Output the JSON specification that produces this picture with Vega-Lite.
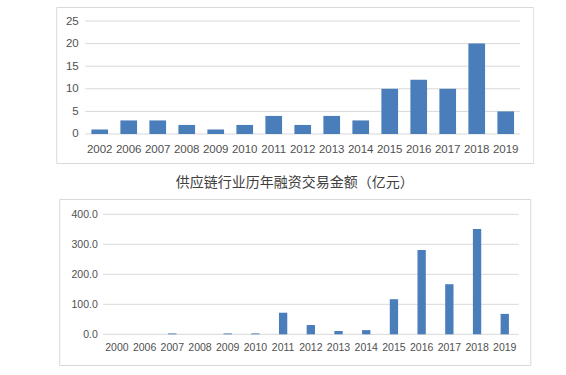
{
  "$schema": "https://vega.github.io/schema/vega-lite/v6.json",
  "padding": {"left": 55, "top": 6, "right": 0, "bottom": 0},
  "background": "white",
  "center": true,
  "spacing": 11,
  "config": {
    "view": {"stroke": "#d9d9d9", "strokeWidth": 1},
    "axis": {"labelFont": "Liberation Sans", "labelColor": "#505050", "domain": false, "ticks": false, "grid": false}
  },
  "vconcat": [
    {
      "width": 477,
      "height": 156,
      "encoding": {
        "y": {
          "field": "value",
          "type": "quantitative",
          "scale": {"domain": [-6.42, 28.1], "nice": false, "zero": false},
          "axis": {"title": null, "values": [0, 5, 10, 15, 20, 25], "offset": -24, "labelPadding": 2, "labelFontSize": 11.5}
        }
      },
      "layer": [
        {
          "data": {"values": [{"value": 0}, {"value": 5}, {"value": 10}, {"value": 15}, {"value": 20}, {"value": 25}]},
          "mark": {"type": "rule", "color": "#d9d9d9", "strokeWidth": 1},
          "encoding": {
            "x": {"datum": "2002", "type": "ordinal", "bandPosition": 0, "axis": {"title": null, "labelAngle": 0, "offset": -29, "labelPadding": 9, "labelFontSize": 11.5}},
            "x2": {"datum": "2019", "bandPosition": 1}
          }
        },
        {
          "data": {"values": [
            {"year": "2002", "value": 1}, {"year": "2006", "value": 3}, {"year": "2007", "value": 3},
            {"year": "2008", "value": 2}, {"year": "2009", "value": 1}, {"year": "2010", "value": 2},
            {"year": "2011", "value": 4}, {"year": "2012", "value": 2}, {"year": "2013", "value": 4},
            {"year": "2014", "value": 3}, {"year": "2015", "value": 10}, {"year": "2016", "value": 12},
            {"year": "2017", "value": 10}, {"year": "2018", "value": 20}, {"year": "2019", "value": 5}
          ]},
          "mark": {"type": "bar", "color": "#4a7ebb", "width": {"band": 0.575}},
          "encoding": {
            "x": {
              "field": "year",
              "type": "ordinal",
              "scale": {"paddingInner": 0, "paddingOuter": 0.724, "align": 0.69},
              "axis": {"title": null, "labelAngle": 0, "offset": -29, "labelPadding": 9, "labelFontSize": 11.5}
            }
          }
        }
      ]
    },
    {
      "width": 471,
      "height": 166,
      "title": {"text": "供应链行业历年融资交易金额（亿元）", "font": "Noto Sans CJK SC", "fontSize": 14, "fontWeight": "normal", "color": "#404040", "anchor": "middle", "offset": 9},
      "encoding": {
        "y": {
          "field": "value",
          "type": "quantitative",
          "scale": {"domain": [-102.3, 451], "nice": false, "zero": false},
          "axis": {"title": null, "values": [0, 100, 200, 300, 400], "format": ".1f", "offset": -40, "labelPadding": 2, "labelFontSize": 10.5}
        }
      },
      "layer": [
        {
          "data": {"values": [{"value": 0}, {"value": 100}, {"value": 200}, {"value": 300}, {"value": 400}]},
          "mark": {"type": "rule", "color": "#d9d9d9", "strokeWidth": 1},
          "encoding": {
            "x": {"datum": "2000", "type": "ordinal", "bandPosition": 0, "axis": {"title": null, "labelAngle": 0, "offset": -30.7, "labelPadding": 8, "labelFontSize": 10.5}},
            "x2": {"datum": "2019", "bandPosition": 1}
          }
        },
        {
          "data": {"values": [
            {"year": "2000", "value": 0}, {"year": "2006", "value": 0}, {"year": "2007", "value": 3},
            {"year": "2008", "value": 0}, {"year": "2009", "value": 3}, {"year": "2010", "value": 3},
            {"year": "2011", "value": 72}, {"year": "2012", "value": 31}, {"year": "2013", "value": 11},
            {"year": "2014", "value": 14}, {"year": "2015", "value": 117}, {"year": "2016", "value": 281},
            {"year": "2017", "value": 167}, {"year": "2018", "value": 351}, {"year": "2019", "value": 68}
          ]},
          "mark": {"type": "bar", "color": "#4a7ebb", "width": {"band": 0.3}},
          "encoding": {
            "x": {
              "field": "year",
              "type": "ordinal",
              "scale": {"paddingInner": 0, "paddingOuter": 1.033, "align": 0.79},
              "axis": {"title": null, "labelAngle": 0, "offset": -30.7, "labelPadding": 8, "labelFontSize": 10.5}
            }
          }
        }
      ]
    }
  ]
}
